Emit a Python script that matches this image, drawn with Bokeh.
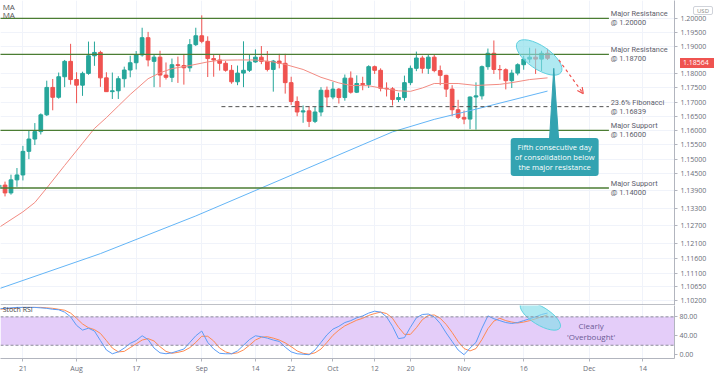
from bokeh.plotting import figure
from bokeh.layouts import column
from bokeh.models import (Range1d, FixedTicker, PrintfTickFormatter, ColumnDataSource,
                          Label, Span, BoxAnnotation, Arrow, OpenHead, Div)
from bokeh.core.properties import value
from bokeh.embed import file_html
from bokeh.resources import INLINE

# ---------------- data (EUR/USD daily) ----------------
bar_index = list(range(-4, 89))   # trading-day index, 0 = Jul 21

opens = [1.1398, 1.1410, 1.1383, 1.1428, 1.1445, 1.1527, 1.1570, 1.1596, 1.1655, 1.1752,
         1.1717, 1.1790, 1.1845, 1.1780, 1.1760, 1.1802, 1.1865, 1.1877, 1.1786, 1.1737,
         1.1740, 1.1783, 1.1814, 1.1840, 1.1868, 1.1930, 1.1845, 1.1860, 1.1796, 1.1788,
         1.1833, 1.1830, 1.1822, 1.1905, 1.1937, 1.1917, 1.1855, 1.1850, 1.1838, 1.1813,
         1.1772, 1.1803, 1.1813, 1.1843, 1.1860, 1.1845, 1.1816, 1.1846, 1.1838, 1.1769,
         1.1702, 1.1665, 1.1669, 1.1632, 1.1665, 1.1742, 1.1718, 1.1746, 1.1716, 1.1785,
         1.1735, 1.1766, 1.1762, 1.1826, 1.1813, 1.1749, 1.1747, 1.1709, 1.1716, 1.1769,
         1.1820, 1.1857, 1.1820, 1.1860, 1.1812, 1.1795, 1.1746, 1.1673, 1.1646, 1.1640,
         1.1718, 1.1722, 1.1826, 1.1874, 1.1816, 1.1815, 1.1776, 1.1803, 1.1833, 1.1853,
         1.1860, 1.1853, 1.1874]
closes = [1.1410, 1.1383, 1.1428, 1.1445, 1.1527, 1.1570, 1.1596, 1.1655, 1.1752, 1.1717,
          1.1790, 1.1845, 1.1780, 1.1760, 1.1802, 1.1865, 1.1877, 1.1786, 1.1737, 1.1740,
          1.1783, 1.1814, 1.1840, 1.1868, 1.1930, 1.1850, 1.1860, 1.1796, 1.1788, 1.1833,
          1.1830, 1.1822, 1.1905, 1.1937, 1.1917, 1.1855, 1.1850, 1.1838, 1.1813, 1.1772,
          1.1803, 1.1813, 1.1843, 1.1860, 1.1845, 1.1816, 1.1846, 1.1838, 1.1769, 1.1702,
          1.1665, 1.1669, 1.1632, 1.1665, 1.1742, 1.1718, 1.1746, 1.1716, 1.1785, 1.1735,
          1.1766, 1.1762, 1.1826, 1.1813, 1.1749, 1.1747, 1.1709, 1.1716, 1.1769, 1.1820,
          1.1857, 1.1820, 1.1860, 1.1812, 1.1795, 1.1746, 1.1673, 1.1646, 1.1640, 1.1718,
          1.1722, 1.1826, 1.1874, 1.1816, 1.1815, 1.1776, 1.1803, 1.1833, 1.1853, 1.1860,
          1.1853, 1.1874, 1.1856]
highs = [1.1452, 1.1422, 1.1446, 1.1469, 1.1546, 1.1601, 1.1626, 1.1660, 1.1776, 1.1782,
         1.1805, 1.1850, 1.1908, 1.1806, 1.1808, 1.1916, 1.1916, 1.1883, 1.1806, 1.1805,
         1.1792, 1.1826, 1.1865, 1.1882, 1.1966, 1.1951, 1.1868, 1.1883, 1.1841, 1.1855,
         1.1862, 1.1870, 1.1925, 1.1966, 1.2011, 1.1935, 1.1870, 1.1870, 1.1846, 1.1832,
         1.1830, 1.1917, 1.1870, 1.1888, 1.1900, 1.1882, 1.1850, 1.1872, 1.1872, 1.1790,
         1.1720, 1.1688, 1.1685, 1.1683, 1.1753, 1.1755, 1.1771, 1.1750, 1.1798, 1.1809,
         1.1795, 1.1790, 1.1831, 1.1830, 1.1820, 1.1770, 1.1753, 1.1733, 1.1794, 1.1830,
         1.1880, 1.1865, 1.1870, 1.1870, 1.1830, 1.1797, 1.1760, 1.1708, 1.1670, 1.1720,
         1.1770, 1.1830, 1.1891, 1.1920, 1.1832, 1.1820, 1.1815, 1.1838, 1.1865, 1.1894,
         1.1891, 1.1883, 1.1890]
lows = [1.1372, 1.1371, 1.1377, 1.1404, 1.1426, 1.1500, 1.1549, 1.1586, 1.1651, 1.1671,
        1.1712, 1.1753, 1.1762, 1.1696, 1.1722, 1.1797, 1.1829, 1.1754, 1.1736, 1.1711,
        1.1711, 1.1752, 1.1788, 1.1816, 1.1862, 1.1827, 1.1753, 1.1753, 1.1780, 1.1771,
        1.1768, 1.1762, 1.1808, 1.1900, 1.1910, 1.1789, 1.1790, 1.1812, 1.1808, 1.1765,
        1.1760, 1.1753, 1.1807, 1.1840, 1.1835, 1.1809, 1.1737, 1.1820, 1.1730, 1.1690,
        1.1650, 1.1627, 1.1612, 1.1626, 1.1650, 1.1685, 1.1710, 1.1695, 1.1705, 1.1730,
        1.1732, 1.1742, 1.1750, 1.1800, 1.1738, 1.1720, 1.1688, 1.1700, 1.1705, 1.1760,
        1.1810, 1.1802, 1.1800, 1.1806, 1.1760, 1.1718, 1.1650, 1.1640, 1.1622, 1.1605,
        1.1603, 1.1709, 1.1815, 1.1800, 1.1780, 1.1745, 1.1750, 1.1795, 1.1815, 1.1840,
        1.1800, 1.1810, 1.1850]

# moving averages (index, price)
ma_red_idx = [-4, 0, 2, 4, 7, 10, 12, 14, 16, 18, 21, 23, 25, 28, 31, 33, 36, 39, 42, 44,
              47, 50, 53, 55, 58, 60, 63, 65, 67, 69, 73, 76, 80, 82, 85, 88]
ma_red = [1.1265, 1.1318, 1.1350, 1.1400, 1.1478, 1.1555, 1.1607, 1.1645, 1.1686, 1.1727,
          1.1783, 1.1804, 1.1819, 1.1830, 1.1843, 1.1849, 1.1850, 1.1850, 1.1843, 1.1834,
          1.1816, 1.1788, 1.1768, 1.1759, 1.1758, 1.1750, 1.1740, 1.1738, 1.1750, 1.1766,
          1.1766, 1.1759, 1.1763, 1.1769, 1.1780, 1.1786]
ma_blue_idx = [-4, 13, 29, 45, 62, 69, 76, 88]
ma_blue = [1.1058, 1.1176, 1.1304, 1.1444, 1.1595, 1.1639, 1.1675, 1.1739]

# Stoch RSI (%K blue, %D orange)
stoch_k = [97, 98, 99, 100, 100, 100, 100, 99, 98, 96, 95, 90, 80, 62, 52, 56, 50, 30, 10, 2,
           6, 14, 24, 30, 40, 32, 14, 4, 2, 4, 8, 12, 26, 40, 50, 26, 12, 3, 2, 2,
           8, 20, 32, 40, 38, 35, 31, 28, 16, 6, 2, 1, 0, 10, 26, 42, 54, 60, 68, 72,
           78, 82, 88, 92, 90, 80, 60, 34, 36, 58, 78, 85, 86, 80, 66, 46, 28, 10, 0, 14,
           26, 56, 82, 76, 72, 68, 66, 68, 72, 76, 80, 85, 88]
stoch_d = [96, 97, 98, 99, 100, 100, 100, 100, 99, 98, 96, 94, 88, 77, 65, 57, 53, 45, 30, 14,
           6, 7, 15, 23, 31, 34, 29, 17, 7, 3, 5, 8, 15, 26, 39, 39, 29, 14, 6, 2,
           4, 10, 20, 31, 37, 38, 35, 31, 25, 17, 8, 3, 1, 4, 12, 26, 41, 52, 61, 67,
           73, 77, 83, 87, 90, 87, 77, 58, 43, 43, 57, 74, 83, 84, 77, 64, 47, 28, 13, 8,
           13, 32, 55, 71, 77, 72, 69, 67, 69, 72, 76, 80, 84]

# levels
level_prices = [1.20, 1.187, 1.16, 1.14]
level_texts = ["Major Resistance\n@ 1.20000", "Major Resistance\n@ 1.18700",
               "Major Support\n@ 1.16000", "Major Support\n@ 1.14000"]
fib_price = 1.16839
fib_text = "23.6% Fibonacci\n@ 1.16839"
last_price = 1.18564

# axis ticks
price_ticks = [1.102, 1.1065, 1.111, 1.116, 1.121, 1.127, 1.133, 1.139, 1.145, 1.150,
               1.155, 1.160, 1.165, 1.170, 1.175, 1.180, 1.190, 1.195, 1.200]
date_tick_idx = [0, 9, 19, 30, 39, 45, 52, 59, 65, 74, 84, 95, 104]
date_tick_labels = ["21", "Aug", "17", "Sep", "14", "22", "Oct", "12", "20", "Nov", "16", "Dec", "14"]
stoch_ticks = [0, 40, 80]

# ---------------- styling ----------------
UP = "#26a69a"
DOWN = "#ef5350"
LEVEL_C = "#4b7d33"
TXT = "#5d606b"
AX = "#b2b5be"
GRID = "#f0f3fa"
FONT = "Open Sans"
W = 712
RB = 38
MAIN_H = 305

xr = Range1d(-3.76, 109.3)
p = figure(width=W, height=MAIN_H, y_axis_type="log", x_range=xr,
           y_range=Range1d(1.1002, 1.2065), y_axis_location="right",
           output_backend="svg", toolbar_location=None,
           min_border_left=0, min_border_right=RB, min_border_top=0, min_border_bottom=0)
p.outline_line_color = None

yt = FixedTicker(ticks=price_ticks)
xt = FixedTicker(ticks=date_tick_idx)
p.yaxis.ticker = yt
p.ygrid.ticker = yt
p.xaxis.ticker = xt
p.xgrid.ticker = xt
p.xaxis.visible = False
p.yaxis.formatter = PrintfTickFormatter(format="%.5f")
for ax in [p.yaxis[0]]:
    ax.major_label_text_font_size = "7px"
    ax.major_label_text_color = "#6a6d78"
    ax.major_label_text_font = FONT
    ax.axis_line_color = AX
    ax.major_tick_line_color = AX
    ax.major_tick_out = 3
    ax.major_tick_in = 0
    ax.minor_tick_line_color = None
    ax.major_label_standoff = 3
p.xgrid.grid_line_color = GRID
p.ygrid.grid_line_color = GRID
# panel divider
p.add_layout(Span(location=1.1004, dimension="width", line_color="#9598a1", line_width=1))

# candles
colors = [UP if c >= o else DOWN for o, c in zip(opens, closes)]
src = ColumnDataSource(dict(x=bar_index, o=opens, c=closes, h=highs, l=lows,
                            top=[max(o, c) for o, c in zip(opens, closes)],
                            bot=[min(o, c) for o, c in zip(opens, closes)],
                            col=colors))
p.segment(x0="x", y0="l", x1="x", y1="h", color="col", line_width=1, source=src)
p.vbar(x="x", width=0.62, top="top", bottom="bot", fill_color="col", line_color="col", source=src)

# moving averages
p.line(ma_red_idx, ma_red, color="#f28b82", line_width=1)
p.line(ma_blue_idx, ma_blue, color="#64b5f6", line_width=1)

# levels
p.segment(x0=[-5] * 4, x1=[98.3] * 4, y0=level_prices, y1=level_prices,
          color=LEVEL_C, line_width=1.3)
p.segment(x0=[33.3], x1=[98.3], y0=[fib_price], y1=[fib_price],
          color="#505050", line_width=1, line_dash="4 3")
p.text(x=[98.6] * 5, y=level_prices + [fib_price], text=level_texts + [fib_text],
       text_font=value("Roboto"), text_font_size="7.4px", text_color=TXT,
       text_align="left", text_baseline="middle", text_line_height=1.0)

# highlight ellipse and arrow
p.ellipse(x=[86.6], y=[1.1859], width=[53], height=[23], width_units="screen",
          height_units="screen", angle=-0.6, fill_color="#84dde9", fill_alpha=0.65,
          line_color="#5fd0e0", line_width=1)
p.add_layout(Arrow(end=OpenHead(size=6, line_color=DOWN, line_width=1.2),
                   x_start=89.9, y_start=1.1850, x_end=94.0, y_end=1.1730,
                   line_color=DOWN, line_dash="3 3", line_width=1.2))

# callout
p.patch(x=[88.3, 89.9, 89.05], y=[1.1557, 1.1557, 1.1820], fill_color="#33a3b1",
        line_color="#33a3b1")
p.add_layout(Label(x=89.2, y=1.1507, text="Fifth consecutive day\nof consolidation below\nthe major resistance",
                   text_align="center", text_baseline="middle", text_color="white",
                   text_font=FONT, text_font_size="7.6px", text_line_height=1.0,
                   background_fill_color="#33a3b1", padding=4, border_radius=3))

# MA legend
p.add_layout(Label(x=-3.4, y=1.2044, text="MA", text_font=FONT, text_font_size="8px",
                   text_color="#555", text_baseline="middle"))
p.add_layout(Label(x=-3.4, y=1.2014, text="MA", text_font=FONT, text_font_size="8px",
                   text_color="#555", text_baseline="middle"))

# ---------------- Stoch RSI panel ----------------
s = figure(width=W, height=70, x_range=xr, y_range=Range1d(-8, 104), y_axis_location="right",
           output_backend="svg", toolbar_location=None,
           min_border_left=0, min_border_right=RB, min_border_top=0, min_border_bottom=0)
s.outline_line_color = None
s.add_layout(BoxAnnotation(bottom=20, top=80, fill_color="#e4cdf9", fill_alpha=1.0,
                           line_color=None, level="underlay"))
for lv in [20, 80]:
    s.add_layout(Span(location=lv, dimension="width", line_color="#8c8c9a",
                      line_dash="3 2", line_width=1))
s.line(bar_index, stoch_d, color="#ff8a50", line_width=1)
s.line(bar_index, stoch_k, color="#5b9cf6", line_width=1)
s.ellipse(x=[86.8], y=[82], width=[46], height=[18], width_units="screen",
          height_units="screen", angle=-0.55, fill_color="#84dde9", fill_alpha=0.65,
          line_color="#5fd0e0", line_width=1)
s.add_layout(Label(x=95.3, y=50, text="Clearly\n'Overbought'", text_align="center",
                   text_baseline="middle", text_font=FONT, text_font_size="8px",
                   text_line_height=1.0, text_color="#6b5b95"))
s.add_layout(Label(x=-3.4, y=95, text="Stoch RSI", text_font=FONT, text_font_size="7px",
                   text_color="#444", text_baseline="middle"))

st = FixedTicker(ticks=stoch_ticks)
s.yaxis.ticker = st
s.ygrid.grid_line_color = None
s.yaxis.formatter = PrintfTickFormatter(format="%.2f")
s.xaxis.ticker = xt
s.xgrid.ticker = xt
s.xgrid.grid_line_color = GRID
s.xaxis.major_label_overrides = {i: t for i, t in zip(date_tick_idx, date_tick_labels)}
for ax in [s.yaxis[0], s.xaxis[0]]:
    ax.major_label_text_font_size = "7px"
    ax.major_label_text_color = "#6a6d78"
    ax.major_label_text_font = FONT
    ax.axis_line_color = AX
    ax.major_tick_line_color = AX
    ax.major_tick_out = 3
    ax.major_tick_in = 0
    ax.minor_tick_line_color = None
    ax.major_label_standoff = 2

# last-price tag and currency badge on the price scale
tag = Div(text="1.18564", width=34, height=10,
          styles={"position": "absolute", "left": "675px", "top": "53px",
                  "background-color": DOWN, "color": "white", "font-size": "7px",
                  "font-family": "Open Sans", "line-height": "10px", "padding-left": "3px",
                  "z-index": "10"})
usd = Div(text="USD", width=20, height=9,
          styles={"position": "absolute", "left": "688px", "top": "1px",
                  "background-color": "white", "color": "#888", "font-size": "6px",
                  "font-family": "Open Sans", "line-height": "8px", "text-align": "center",
                  "border": "1px solid #d0d3da", "border-radius": "2px", "z-index": "10"})

layout = column(p, s, tag, usd, spacing=0)
open("out.html", "w").write(file_html(layout, INLINE))
